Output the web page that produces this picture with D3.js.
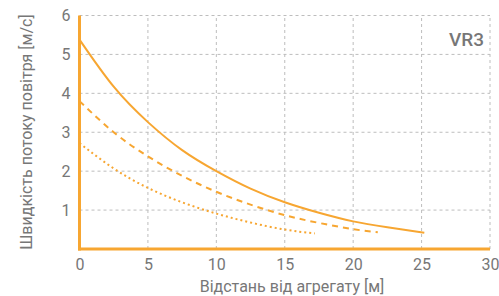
<!DOCTYPE html>
<html lang="uk">
<head>
<meta charset="utf-8">
<title>VR3</title>
<script src="https://d3js.org/d3.v7.min.js"></script>
<style>
  body { margin: 0; background: #fff; }
  text { font-family: Roboto, sans-serif; fill: #777; }
  .grid line { stroke: #bdbdbd; stroke-dasharray: 3,3; stroke-width: 1; }
</style>
</head>
<body>
<svg width="499" height="296"></svg>
<script>
// distances along the jet [m]
var solidX  = [0, 2.5, 5, 7.5, 10, 12.5, 15, 17.5, 20, 22.5, 25.2];
var solidY  = [5.38, 4.17, 3.26, 2.54, 2.0, 1.55, 1.2, 0.93, 0.71, 0.56, 0.42];
var dashX   = [0, 2.5, 5, 7.5, 10, 12.5, 15, 17.5, 20, 21.8];
var dashY   = [3.8, 3.0, 2.38, 1.88, 1.47, 1.14, 0.87, 0.67, 0.51, 0.43];
var dotX    = [0, 2.5, 5, 7.5, 10, 12.5, 15, 17.2];
var dotY    = [2.72, 2.07, 1.57, 1.2, 0.91, 0.68, 0.5, 0.4];
var xTicks  = [0, 5, 10, 15, 20, 25, 30];
var yTicks  = [1, 2, 3, 4, 5, 6];

var orange = "#f7a631";
var svg = d3.select("svg");

var x = d3.scaleLinear().domain([0, 30]).range([79.5, 490]);
var y = d3.scaleLinear().domain([0, 6]).range([249, 15.5]);

// grid
var grid = svg.append("g").attr("class", "grid");
grid.selectAll(".v").data(xTicks.slice(1)).enter().append("line")
  .attr("x1", function(d) { return x(d); }).attr("x2", function(d) { return x(d); })
  .attr("y1", y(0)).attr("y2", y(6));
grid.selectAll(".h").data(yTicks).enter().append("line")
  .attr("x1", x(0)).attr("x2", x(30))
  .attr("y1", function(d) { return y(d); }).attr("y2", function(d) { return y(d); });

// axes
var xAxis = svg.append("g").attr("transform", "translate(0," + y(0) + ")")
  .call(d3.axisBottom(x).tickValues(xTicks).tickFormat(d3.format("d")).tickSize(0).tickPadding(10));
var yAxis = svg.append("g").attr("transform", "translate(" + x(0) + ",0)")
  .call(d3.axisLeft(y).tickValues(yTicks).tickFormat(d3.format("d")).tickSize(0).tickPadding(9));
[xAxis, yAxis].forEach(function(a) {
  a.select(".domain").remove();
  a.selectAll("text").style("font-size", "16px").style("fill", "#777").style("font-family", "Roboto, sans-serif");
});

svg.append("line").attr("x1", x(0)).attr("x2", x(0)).attr("y1", y(0) + 1.5).attr("y2", y(6))
  .attr("stroke", orange).attr("stroke-width", 3);
svg.append("line").attr("x1", x(0) - 1.5).attr("x2", x(30)).attr("y1", y(0)).attr("y2", y(0))
  .attr("stroke", orange).attr("stroke-width", 3);

// curves
var line = d3.line()
  .x(function(d) { return x(d[0]); })
  .y(function(d) { return y(d[1]); })
  .curve(d3.curveNatural);

function series(xs, ys) { return xs.map(function(v, i) { return [v, ys[i]]; }); }

svg.append("path").attr("d", line(series(solidX, solidY)))
  .attr("fill", "none").attr("stroke", orange).attr("stroke-width", 2);
svg.append("path").attr("d", line(series(dashX, dashY)))
  .attr("fill", "none").attr("stroke", orange).attr("stroke-width", 2).attr("stroke-dasharray", "6,5");
svg.append("path").attr("d", line(series(dotX, dotY)))
  .attr("fill", "none").attr("stroke", orange).attr("stroke-width", 2).attr("stroke-dasharray", "2,3");

// labels
svg.append("text").attr("x", 484).attr("y", 46).attr("text-anchor", "end")
  .style("font-size", "19px").style("font-weight", "500").text("VR3");

svg.append("text").attr("x", 292).attr("y", 292).attr("text-anchor", "middle")
  .style("font-size", "16px").text("Відстань від агрегату [м]");

svg.append("text").attr("transform", "translate(32,132) rotate(-90)").attr("text-anchor", "middle")
  .style("font-size", "16px").text("Швидкість потоку повітря [м/с]");
</script>
</body>
</html>
